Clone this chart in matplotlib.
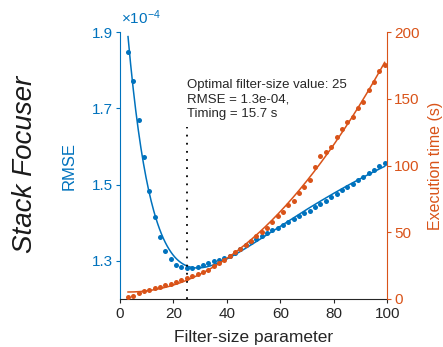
import numpy as np
import matplotlib
matplotlib.use("Agg")
import matplotlib.pyplot as plt

plt.rcParams['font.family'] = ['Liberation Sans', 'DejaVu Sans']
plt.rcParams['mathtext.fontset'] = 'custom'
plt.rcParams['mathtext.rm'] = 'Liberation Sans'
plt.rcParams['mathtext.it'] = 'Liberation Sans:italic'

# filter-size values (odd sizes 3..99)
filter_size = [3, 5, 7, 9, 11, 13, 15, 17, 19, 21, 23, 25, 27, 29, 31, 33, 35,
               37, 39, 41, 43, 45, 47, 49, 51, 53, 55, 57, 59, 61, 63, 65, 67,
               69, 71, 73, 75, 77, 79, 81, 83, 85, 87, 89, 91, 93, 95, 97, 99]

# RMSE, in units of 1e-4
rmse_e4 = [1.847, 1.772, 1.670, 1.572, 1.484, 1.415, 1.362, 1.326, 1.304, 1.290,
           1.283, 1.280, 1.280, 1.283, 1.289, 1.295, 1.299, 1.302, 1.307, 1.313,
           1.321, 1.332, 1.341, 1.349, 1.358, 1.366, 1.373, 1.380, 1.387, 1.395,
           1.402, 1.410, 1.417, 1.425, 1.432, 1.441, 1.450, 1.458, 1.467, 1.476,
           1.485, 1.494, 1.502, 1.512, 1.521, 1.530, 1.539, 1.548, 1.556]

# execution time (s)
exec_time = [1.5, 2.5, 4.5, 6.0, 7.0, 8.2, 9.2, 10.2, 11.5, 12.5, 14.0, 15.7,
             17.0, 18.5, 20.2, 22.0, 24.5, 27.0, 29.5, 32.2, 35.0, 37.7, 40.8,
             43.8, 47.0, 50.5, 53.5, 57.5, 62.0, 65.0, 70.4, 73.5, 79.3, 83.7,
             89.2, 98.6, 107.3, 110.1, 113.6, 121.1, 127.3, 132.8, 136.6, 143.1,
             147.3, 156.3, 162.5, 170.8, 175.5]

best_size = 25
best_rmse = 1.3e-4
best_time = 15.7

blue = '#0072BD'
orange = '#D95319'
grey = '#262626'

x = np.array(filter_size, dtype=float)
r = np.array(rmse_e4)
t = np.array(exec_time)
xx = np.linspace(x[0], x[-1], 400)

# smooth fit for rmse: 1, x, x^2, exp(-x/tau), pick tau with least residual
best = None
for tau in np.linspace(2, 20, 181):
    A = np.column_stack([np.ones_like(x), x, x**2, np.exp(-x / tau)])
    c, res, _, _ = np.linalg.lstsq(A, r, rcond=None)
    err = np.sum((A @ c - r)**2)
    if best is None or err < best[0]:
        best = (err, tau, c)
_, tau, c = best
r_fit = c[0] + c[1]*xx + c[2]*xx**2 + c[3]*np.exp(-xx / tau)

t_fit = np.polyval(np.polyfit(x, t, 2), xx)

fig = plt.figure(figsize=(4.43, 3.47), dpi=100)
ax = fig.add_axes([120/443, 48/347, 267.3/443, 267/347])
ax2 = ax.twinx()

ax.plot(xx, r_fit, color=blue, lw=1.1)
ax.plot(x, r, 'o', color=blue, ms=3.6, mec='none')
ax.plot([best_size, best_size], [1.2, 1.65], color='k', lw=1.3,
        linestyle=(0, (1, 3.5)))

ax2.plot(xx, t_fit, color=orange, lw=1.1)
ax2.plot(x, t, 'o', color=orange, ms=3.6, mec='none')

ax.set_xlim(0, 100)
ax.set_ylim(1.2, 1.9)
ax2.set_ylim(0, 200)
ax.set_xticks([0, 20, 40, 60, 80, 100])
ax.set_yticks([1.3, 1.5, 1.7, 1.9])
ax.set_yticklabels(['1.3', '1.5', '1.7', '1.9'])
ax2.set_yticks([0, 50, 100, 150, 200])

for a in (ax, ax2):
    a.spines['top'].set_visible(False)
    for s in a.spines.values():
        s.set_linewidth(0.8)
ax.spines['right'].set_visible(False)
ax2.spines['left'].set_visible(False)
ax2.spines['bottom'].set_visible(False)
ax.spines['left'].set_color(blue)
ax.spines['bottom'].set_color(grey)
ax2.spines['right'].set_color(orange)

ax.tick_params(axis='x', direction='out', length=3, width=0.8, colors=grey,
               labelsize=11, pad=3)
ax.tick_params(axis='y', direction='out', length=3, width=0.8, colors=blue,
               labelsize=11, pad=2)
ax2.tick_params(axis='y', direction='out', length=3, width=0.8, colors=orange,
                labelsize=11, pad=2)

ax.set_xlabel('Filter-size parameter', fontsize=12.5, color=grey)
ax.xaxis.set_label_coords(0.5, -0.115)
ax.set_ylabel('RMSE', fontsize=12, color=blue)
ax.yaxis.set_label_coords(-0.161, 0.5)
ax2.set_ylabel('Execution time (s)', fontsize=11.5, color=orange)
ax2.yaxis.set_label_coords(1.152, 0.5)

ax.text(0.251, (299 - 99.3)/267, 'Optimal filter-size value: %d\nRMSE = %.1e,\nTiming = %.1f s'
        % (best_size, best_rmse, best_time),
        transform=ax.transAxes, fontsize=9.5, color=grey, va='center',
        ha='left', linespacing=1.25)

fig.text(121/443, 1 - 18/347, r'$\times10^{-4}$', color=blue, fontsize=11,
         va='center', ha='left')

fig.text(25/443, 1 - 164/347, 'Stack Focuser', rotation=90, fontsize=20,
         style='italic', color='#1a1a1a', va='center', ha='center')

fig.savefig('out.png', dpi=100)
